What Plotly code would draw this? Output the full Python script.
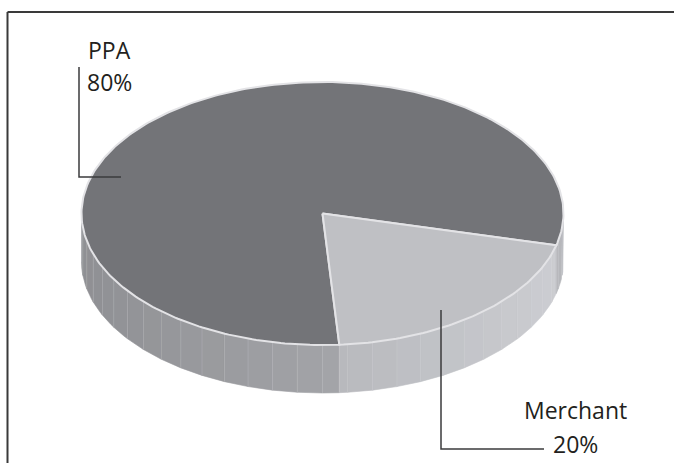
import numpy as np
import plotly.graph_objects as go

# Revenue split shown as a tilted (3-D style) pie
labels = ["PPA", "Merchant"]
shares = [80, 20]
pct_text = ["80%", "20%"]

W, H = 674, 463

# projected ellipse of the pie's top face (pixel space)
cx, cy = 322.5, 213.5
rx, ry = 241.0, 131.5
depth = 48.0
start_deg = -14.0          # first slice begins here, running counter-clockwise

top_fill = {"PPA": "#737478", "Merchant": "#bfc0c4"}
side_base = {"PPA": (163, 164, 168), "Merchant": (183, 184, 188)}
rim_color = "#e3e3e6"


def ell(t_deg, dy=0.0):
    t = np.radians(t_deg)
    return cx + rx * np.cos(t), cy - ry * np.sin(t) + dy


# angular span of each slice
total = float(sum(shares))
spans = []
a = start_deg
for lab, v in zip(labels, shares):
    sweep = 360.0 * v / total
    spans.append((lab, a, a + sweep))
    a += sweep


def slice_at(t_deg):
    rel = (t_deg - start_deg) % 360.0
    acc = 0.0
    for lab, v in zip(labels, shares):
        acc += 360.0 * v / total
        if rel < acc:
            return lab
    return labels[-1]


fig = go.Figure()

# ---- side wall (only the front half is visible) ----
breaks = list(np.arange(180.0, 360.0 + 0.1, 6.0))
for _, a0, a1 in spans:
    for b in (a0 % 360.0, a1 % 360.0):
        if 180.0 < b < 360.0:
            breaks.append(b)
breaks = sorted(set(round(b, 4) for b in breaks))

edge_x, edge_y = [], []
for t0, t1 in zip(breaks[:-1], breaks[1:]):
    mid = 0.5 * (t0 + t1)
    lab = slice_at(mid)
    f = 1.0 + 0.12 * np.cos(np.radians(mid))
    r, g, b = (min(255, int(c * f)) for c in side_base[lab])
    col = f"rgb({r},{g},{b})"
    ts = np.linspace(t0, t1, 5)
    tx, ty = ell(ts)
    bx, by = ell(ts[::-1], depth)
    xs = list(tx) + list(bx) + [tx[0]]
    ys = list(ty) + list(by) + [ty[0]]
    fig.add_trace(go.Scatter(x=xs, y=ys, mode="lines", fill="toself",
                             fillcolor=col, line=dict(color=col, width=0.6),
                             hoverinfo="skip", showlegend=False))
    x0, y0 = ell(t0)
    x1, y1 = ell(t0, depth)
    edge_x += [x0, x1, None]
    edge_y += [y0, y1, None]

fig.add_trace(go.Scatter(x=edge_x, y=edge_y, mode="lines",
                         line=dict(color="rgba(215,215,219,0.3)", width=0.7),
                         hoverinfo="skip", showlegend=False))

# ---- top face slices ----
for lab, a0, a1 in spans:
    ts = np.linspace(a0, a1, int(abs(a1 - a0)) + 2)
    ax_, ay_ = ell(ts)
    xs = [cx] + list(ax_) + [cx]
    ys = [cy] + list(ay_) + [cy]
    fig.add_trace(go.Scatter(x=xs, y=ys, mode="lines", fill="toself",
                             fillcolor=top_fill[lab],
                             line=dict(color=rim_color, width=2),
                             hoverinfo="skip", showlegend=False, name=lab))

# ---- leader lines ----
lead = dict(color="#3b3b3d", width=1.5)
fig.add_trace(go.Scatter(x=[79, 79, 121], y=[67, 177, 177], mode="lines",
                         line=lead, hoverinfo="skip", showlegend=False))
fig.add_trace(go.Scatter(x=[441, 441, 544], y=[310, 449, 449], mode="lines",
                         line=lead, hoverinfo="skip", showlegend=False))

# ---- labels ----
font = dict(family="Open Sans", size=23, color="#231f20")
label_pos = {"PPA": (109.5, 50, 82), "Merchant": (575, 410, 444)}
for lab, pct in zip(labels, pct_text):
    x, y1, y2 = label_pos[lab]
    fig.add_annotation(x=x, y=y1, text=lab, showarrow=False, font=font,
                       xanchor="center", yanchor="middle")
    fig.add_annotation(x=x, y=y2, text=pct, showarrow=False, font=font,
                       xanchor="center", yanchor="middle")

# ---- frame (left and top edges) ----
frame = dict(color="#3a3a3a", width=2)
fig.add_shape(type="line", x0=7.5, y0=H, x1=7.5, y1=12, line=frame)
fig.add_shape(type="line", x0=7.5, y0=12, x1=W, y1=12, line=frame)

fig.update_xaxes(range=[0, W], visible=False, fixedrange=True)
fig.update_yaxes(range=[H, 0], visible=False, fixedrange=True)
fig.update_layout(width=W, height=H, margin=dict(l=0, r=0, t=0, b=0, pad=0),
                  paper_bgcolor="white", plot_bgcolor="white",
                  showlegend=False)

fig.write_html("out.html")
